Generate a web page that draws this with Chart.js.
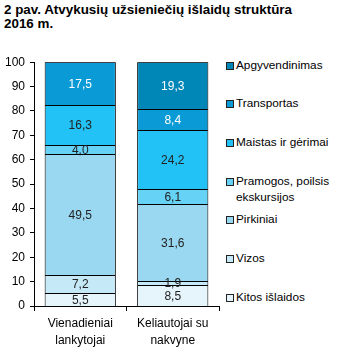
<!DOCTYPE html>
<html lang="lt">
<head>
<meta charset="utf-8">
<script src="https://cdn.jsdelivr.net/npm/chart.js@4/dist/chart.umd.min.js"></script>
<style>
    html, body { margin: 0; padding: 0; background: #fff; }
    body { width: 343px; height: 357px; position: relative; overflow: hidden; font-family: "Liberation Sans", Arial, sans-serif; }
    #title { position: absolute; left: 4px; top: 3px; font-weight: bold; font-size: 13.4px; line-height: 14px; color: #000; }
    #chart-box { position: absolute; left: 0; top: 50px; width: 220px; height: 307px; }
    #legend { position: absolute; left: 226px; top: 0; font-size: 11.8px; color: #000; }
    .legend-item { position: absolute; left: 0; white-space: nowrap; line-height: 16px; }
    .legend-box { position: absolute; left: 0; top: 5px; width: 6px; height: 6px; border: 1px solid #222; }
    .legend-text { position: absolute; left: 10px; top: 0; }
</style>
</head>
<body>
<div id="title">2 pav. Atvykusių užsieniečių išlaidų struktūra<br>2016 m.</div>
<div id="chart-box"><canvas id="structureChart" width="220" height="307"></canvas></div>
<div id="legend"></div>

<script>
    // Visitor groups
    const categories = [['Vienadieniai', 'lankytojai'], ['Keliautojai su', 'nakvyne']];

    // Expense shares, % (bottom to top of the stack)
    const kitos = [5.5, 8.5];
    const vizos = [7.2, 1.9];
    const pirkiniai = [49.5, 31.6];
    const pramogos = [4.0, 6.1];
    const maistas = [16.3, 24.2];
    const transportas = [17.5, 8.4];
    const apgyvendinimas = [0, 19.3];

    const yTicks = [0, 10, 20, 30, 40, 50, 60, 70, 80, 90, 100];

    const FONT = '"Liberation Sans", Arial, sans-serif';

    // Legend row positions (text line top, px)
    const legendTops = [57, 95, 134, 173, 211, 250, 289];

    function series(label, data, color, textColor) {
        return {
            label: label,
            data: data,
            backgroundColor: color,
            borderColor: '#000',
            borderWidth: 1,
            // bottom edge is the top edge of the segment below
            borderSkipped: 'bottom',
            labelColor: textColor
        };
    }

    const datasets = [
        series('Kitos išlaidos', kitos, '#e6f5fc', '#222'),
        series('Vizos', vizos, '#c6e9f8', '#222'),
        series('Pirkiniai', pirkiniai, '#99d8f0', '#222'),
        series(['Pramogos, poilsis', 'ekskursijos'], pramogos, '#66d2f6', '#222'),
        series('Maistas ir gėrimai', maistas, '#22c2f6', '#222'),
        series('Transportas', transportas, '#0a9ad6', '#fff'),
        series('Apgyvendinimas', apgyvendinimas, '#0087b8', '#fff')
    ];

    // Snap segment edges to whole pixels so the dividing lines stay sharp
    const snapBars = {
        id: 'snapBars',
        afterDatasetsUpdate(chart) {
            chart.data.datasets.forEach((ds, i) => {
                chart.getDatasetMeta(i).data.forEach(bar => {
                    bar.y = Math.round(bar.y);
                    bar.base = Math.round(bar.base);
                });
            });
        }
    };

    // Writes the value in the middle of each segment, decimal comma
    const segmentLabels = {
        id: 'segmentLabels',
        afterDatasetsDraw(chart) {
            const ctx = chart.ctx;
            ctx.save();
            ctx.font = '12px ' + FONT;
            ctx.textAlign = 'center';
            ctx.textBaseline = 'middle';
            chart.data.datasets.forEach((ds, i) => {
                const meta = chart.getDatasetMeta(i);
                meta.data.forEach((bar, j) => {
                    const v = ds.data[j];
                    if (!v) return;
                    ctx.fillStyle = ds.labelColor;
                    ctx.fillText(v.toFixed(1).replace('.', ','), bar.x, (bar.y + bar.base) / 2 + 1);
                });
            });
            ctx.restore();
        }
    };

    const chart = new Chart(document.getElementById('structureChart'), {
        type: 'bar',
        data: { labels: categories, datasets: datasets },
        plugins: [snapBars, segmentLabels],
        options: {
            responsive: false,
            animation: false,
            layout: { padding: { top: 8, right: 1, bottom: 0, left: 0 } },
            plugins: {
                legend: { display: false },
                tooltip: { enabled: false }
            },
            datasets: {
                bar: { categoryPercentage: 1, barPercentage: 0.77 }
            },
            scales: {
                x: {
                    stacked: true,
                    border: { color: '#000', width: 1 },
                    grid: { offset: true, drawOnChartArea: false, color: '#000', tickLength: 5 },
                    ticks: { color: '#000', font: { family: FONT, size: 12, lineHeight: 1.4 }, padding: 4, maxRotation: 0 },
                    afterFit(scale) { scale.height = 51; }
                },
                y: {
                    stacked: true,
                    min: 0,
                    max: 100,
                    afterBuildTicks(scale) { scale.ticks = yTicks.map(v => ({ value: v })); },
                    border: { color: '#000', width: 1 },
                    grid: { drawOnChartArea: false, color: '#000', tickLength: 4 },
                    ticks: { color: '#000', font: { family: FONT, size: 12 }, padding: 5 },
                    afterFit(scale) { scale.width = 34; }
                }
            }
        }
    });

    // Legend on the right, top item is the top of the stack
    const legend = document.getElementById('legend');
    chart.data.datasets.slice().reverse().forEach((ds, i) => {
        const item = document.createElement('div');
        item.className = 'legend-item';
        item.style.top = legendTops[i] + 'px';
        const box = document.createElement('span');
        box.className = 'legend-box';
        box.style.background = ds.backgroundColor;
        const text = document.createElement('span');
        text.className = 'legend-text';
        text.innerHTML = [].concat(ds.label).join('<br>');
        item.appendChild(box);
        item.appendChild(text);
        legend.appendChild(item);
    });
</script>
</body>
</html>
